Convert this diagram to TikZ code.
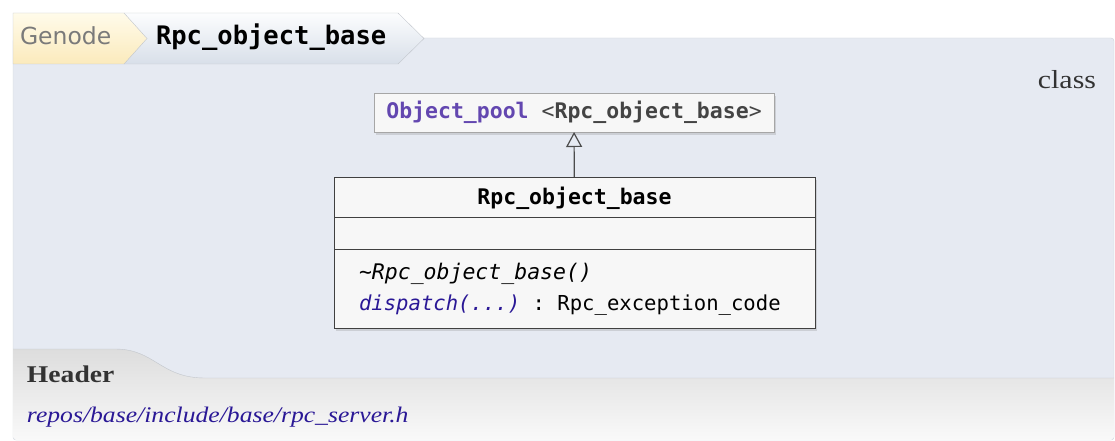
\documentclass[tikz,border=0pt]{standalone}
\usepackage{fontspec}
\setmainfont{Liberation Serif}[FakeStretch=1.15]
\setsansfont{DejaVu Sans}
\setmonofont{DejaVu Sans Mono}
\usetikzlibrary{arrows.meta,shadows,calc}

\definecolor{panelfill}{HTML}{E6EAF2}
\definecolor{panelline}{HTML}{D0D4DA}
\definecolor{rootcrumbtop}{HTML}{FFFBEA}
\definecolor{rootcrumbbot}{HTML}{FBEABC}
\definecolor{crumbtop}{HTML}{FCFDFE}
\definecolor{crumbbot}{HTML}{D8DFE9}
\definecolor{crumbline}{HTML}{C2C6CC}
\definecolor{hdrtop}{HTML}{DDDDDD}
\definecolor{hdrbot}{HTML}{F9F9F9}
\definecolor{poolname}{HTML}{6347B0}
\definecolor{tplarg}{HTML}{444444}
\definecolor{linkblue}{HTML}{2A1896}
\definecolor{textgray}{HTML}{333333}

\begin{document}
\begin{tikzpicture}[x=1pt,y=-1pt, every node/.style={inner sep=0pt, outer sep=0pt},
    mono/.style={font=\fontsize{21.5}{26}\selectfont\ttfamily},
    monobold/.style={font=\fontsize{21.5}{26}\selectfont\ttfamily\bfseries},
    serif/.style={font=\fontsize{23}{28}\selectfont\rmfamily, text=textgray},
    umlshadow/.style={drop shadow={opacity=0.25, shadow xshift=2pt, shadow yshift=-3pt}}]
    \useasboundingbox (0,0) rectangle (1115,441);
    % panel and header strip
    \filldraw[fill=panelfill, draw=panelline, rounded corners=3pt] (13,38) rectangle (1114,440);
    \shade[top color=hdrtop, bottom color=hdrbot] (13,349) -- (115,349) .. controls (155,349) and (160,378) .. (205,378) -- (1114,378) -- (1114,437) -- (1111,440) -- (16,440) -- (13,437) -- cycle;
    \draw[crumbline] (13,349) -- (115,349) .. controls (155,349) and (160,378) .. (205,378) -- (1114,378);
    % breadcrumbs
    \shade[top color=crumbtop, bottom color=crumbbot, draw=crumbline] (124,13) -- (398,13) -- (424,38.5) -- (398,64) -- (124,64) -- cycle;
    \shade[top color=rootcrumbtop, bottom color=rootcrumbbot, draw=crumbline] (13,13) -- (124,13) -- (147,38.5) -- (124,64) -- (13,64) -- cycle;
    \node[anchor=base west, font=\fontsize{23.5}{28}\selectfont\sffamily, text=black!52] (root) at (20,45) {Genode};
    \node[anchor=base west, font=\fontsize{25.5}{30}\selectfont\ttfamily\bfseries] (crumb) at (156,45) {Rpc\_object\_base};
    \node[serif, font=\fontsize{26}{30}\selectfont\rmfamily, anchor=base east] (kind) at (1096,89) {class};
    % uml boxes
    \node[draw=black!35, fill=black!3, umlshadow, minimum width=400, minimum height=39, mono] (pool) at (574,112.5) {\textcolor{poolname}{\bfseries Object\_pool} \textcolor{tplarg}{<\textbf{Rpc\_object\_base}>}};
    \node[draw=black!75, fill=black!3, umlshadow, minimum width=481, minimum height=151, anchor=north west] (cls) at (334,177) {};
    \draw[black!75] ($(cls.north west)+(0,40)$) -- ($(cls.north east)+(0,40)$);
    \draw[black!75] ($(cls.north west)+(0,72)$) -- ($(cls.north east)+(0,72)$);
    \node[monobold, anchor=base] (clsname) at (574.5,204) {Rpc\_object\_base};
    \node[mono, anchor=base west] (dtor) at (359,279) {\itshape\textasciitilde Rpc\_object\_base()};
    \node[mono, font=\fontsize{20.6}{26}\selectfont\ttfamily, anchor=base west] (dispatch) at (359,310) {\textcolor{linkblue}{\itshape dispatch(...)} : Rpc\_exception\_code};
    \draw[black!70, line width=1.2pt, -{Triangle[open, length=15pt, width=16pt]}] (cls) -- (pool);
    % header
    \node[serif, font=\fontsize{24}{28}\selectfont\rmfamily\bfseries, anchor=base west] (hdr) at (27,382) {Header};
    \node[serif, font=\fontsize{22.3}{28}\selectfont\rmfamily\itshape, text=linkblue, anchor=base west] (path) at (27,422) {repos/base/include/base/rpc\_server.h};
\end{tikzpicture}
\end{document}
